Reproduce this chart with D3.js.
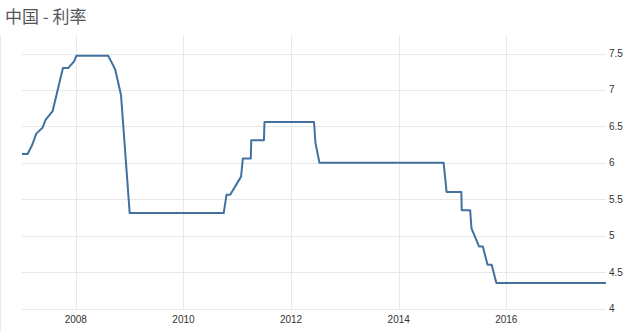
<!DOCTYPE html>
<html>
<head>
<meta charset="utf-8">
<script src="https://cdn.jsdelivr.net/npm/d3@7"></script>
<style>
    html, body { margin: 0; padding: 0; background: #fff; }
    svg { display: block; }
    .title { font-family: "Noto Sans CJK SC", "Noto Sans", sans-serif; font-size: 17px; fill: #555; }
    .tick-label { font-family: "Liberation Sans", Arial, sans-serif; font-size: 10px; fill: #333; }
    .grid { stroke: #e8e8e8; stroke-width: 1; shape-rendering: crispEdges; }
</style>
</head>
<body>
<svg id="chart"></svg>
<script>
// interest rate vertices
const dates = [
    '2007-01-01', '2007-02-08', '2007-03-10', '2007-04-08', '2007-05-20', '2007-06-10',
    '2007-07-28', '2007-10-06', '2007-11-10', '2007-12-20', '2008-01-05', '2008-08-08',
    '2008-09-10', '2008-09-26', '2008-11-03', '2009-01-01', '2010-10-01', '2010-10-20',
    '2010-11-14', '2011-01-27', '2011-02-08', '2011-04-03', '2011-04-06', '2011-07-01',
    '2011-07-05', '2012-06-05', '2012-06-15', '2012-07-12', '2014-11-02', '2014-11-22',
    '2015-03-02', '2015-03-05', '2015-05-01', '2015-05-10', '2015-07-01', '2015-07-26',
    '2015-08-27', '2015-09-24', '2015-10-26', '2017-11-08'
];
const rates = [
    6.12, 6.12, 6.24, 6.40, 6.48, 6.59,
    6.71, 7.30, 7.30, 7.39, 7.47, 7.47,
    7.34, 7.27, 6.93, 5.31, 5.31, 5.56,
    5.56, 5.81, 6.06, 6.06, 6.31, 6.31,
    6.56, 6.56, 6.27, 6.00, 6.00, 5.60,
    5.60, 5.35, 5.35, 5.10, 4.85, 4.85,
    4.60, 4.60, 4.35, 4.35
];
const yTicks = [4, 4.5, 5, 5.5, 6, 6.5, 7, 7.5];
const xTickYears = [2008, 2010, 2012, 2014, 2016];
const title = '中国 - 利率';

const width = 640, height = 331;
const plotLeft = 22, plotRight = 606, plotTop = 35, plotBottom = 308.5;

const parse = d3.timeParse('%Y-%m-%d');
const data = dates.map((d, i) => ({ date: parse(d), value: rates[i] }));

const svg = d3.select('#chart')
    .attr('width', width)
    .attr('height', height);

const x = d3.scaleTime()
    .domain([parse('2007-01-01'), parse('2017-11-08')])
    .range([plotLeft, plotRight]);

const y = d3.scaleLinear()
    .domain([4, 7.5])
    .range([plotBottom, 53.5]);

// faint frame on the left edge
svg.append('line')
    .attr('class', 'grid')
    .attr('x1', 0.5).attr('x2', 0.5)
    .attr('y1', plotTop).attr('y2', height);

// vertical grid + year labels
const xTicks = xTickYears.map(yr => new Date(yr, 0, 1));
svg.append('g').selectAll('line')
    .data(xTicks)
    .join('line')
    .attr('class', 'grid')
    .attr('x1', d => Math.round(x(d)) + 0.5)
    .attr('x2', d => Math.round(x(d)) + 0.5)
    .attr('y1', plotTop)
    .attr('y2', plotBottom);

svg.append('g').selectAll('text')
    .data(xTicks)
    .join('text')
    .attr('class', 'tick-label')
    .attr('x', d => x(d))
    .attr('y', 323)
    .attr('text-anchor', 'middle')
    .text(d => d3.timeFormat('%Y')(d));

// horizontal grid + value labels on the right
svg.append('g').selectAll('line')
    .data(yTicks)
    .join('line')
    .attr('class', 'grid')
    .attr('x1', plotLeft)
    .attr('x2', plotRight)
    .attr('y1', d => Math.round(y(d)) + 0.5)
    .attr('y2', d => Math.round(y(d)) + 0.5);

svg.append('g').selectAll('text')
    .data(yTicks)
    .join('text')
    .attr('class', 'tick-label')
    .attr('x', 609)
    .attr('y', d => y(d))
    .attr('dy', '0.35em')
    .text(d => d);

// the rate line
const line = d3.line()
    .x(d => x(d.date))
    .y(d => y(d.value));

svg.append('path')
    .datum(data)
    .attr('fill', 'none')
    .attr('stroke', '#43719f')
    .attr('stroke-width', 2)
    .attr('stroke-linejoin', 'round')
    .attr('d', line);

svg.append('text')
    .attr('class', 'title')
    .attr('x', 5)
    .attr('y', 23)
    .text(title);
</script>
</body>
</html>
